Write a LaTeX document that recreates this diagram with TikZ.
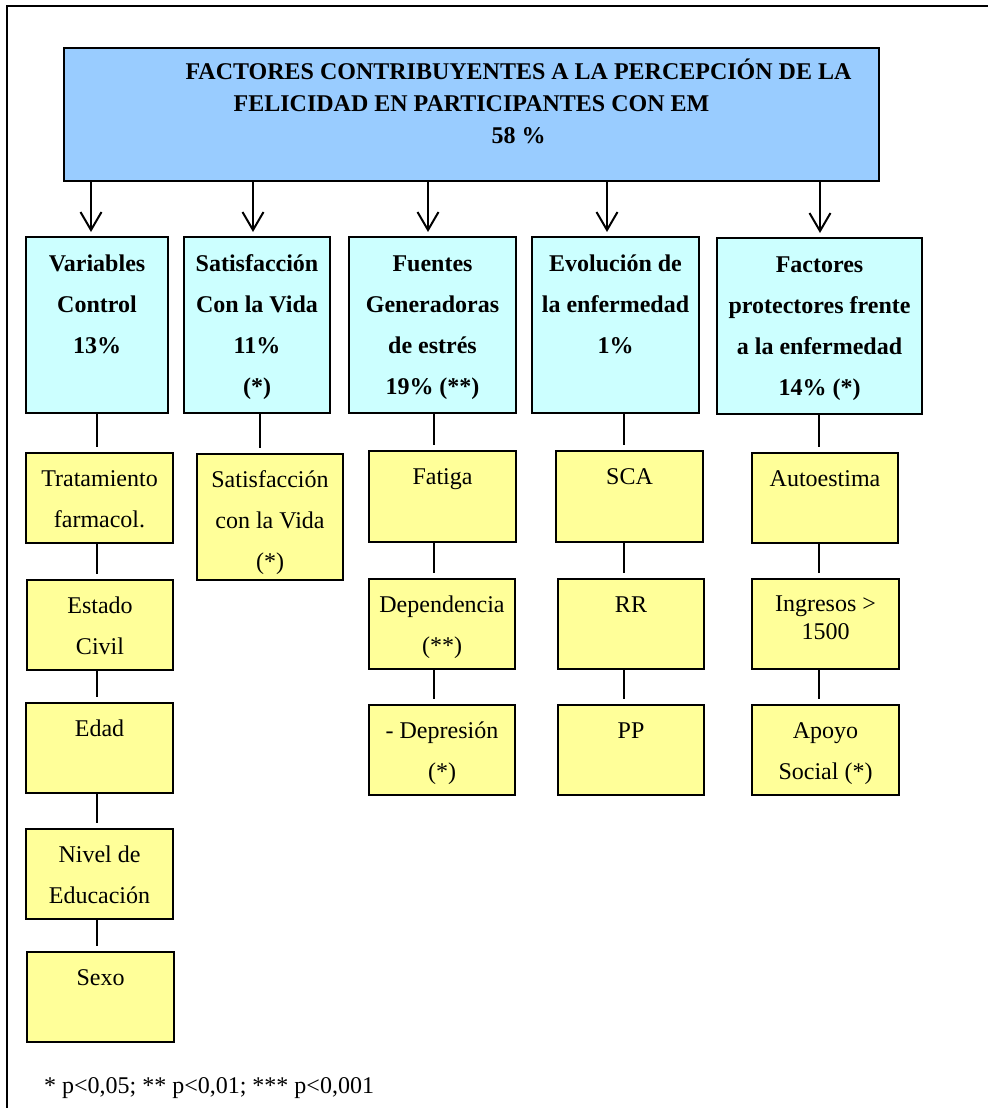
\documentclass[tikz,border=0pt]{standalone}
\usepackage{fontspec}
\setmainfont{Liberation Serif}
\usetikzlibrary{arrows.meta}

\definecolor{azulcab}{HTML}{99CCFF}
\definecolor{celeste}{HTML}{CCFFFF}
\definecolor{amarillo}{HTML}{FFFF99}

% texto de caja, alineado arriba
\newcommand{\cajatexto}[4]{%
\begin{minipage}[t][#1][t]{#2}\centering\rule{0pt}{#3}#4\end{minipage}}

\tikzset{
cabecera/.style={draw, line width=1pt, fill=azulcab, inner sep=0pt,
  anchor=north west, font=\bfseries\fontsize{12}{16}\selectfont},
factor/.style={draw, line width=1pt, fill=celeste, inner sep=0pt,
  anchor=north west, font=\bfseries\fontsize{12}{20.5}\selectfont},
itemcaja/.style={draw, line width=1pt, fill=amarillo, inner sep=0pt,
  anchor=north west, font=\fontsize{12}{20.5}\selectfont},
flecha/.style={line width=1pt, shorten >=2pt,
  -{Straight Barb[length=9pt,width=10.5pt]}},
enlace/.style={line width=0.8pt}
}

\begin{document}
\begin{tikzpicture}[x=0.5pt,y=-0.5pt]

\useasboundingbox (0,0) rectangle (988,1108);

% Marco
\draw[line width=1pt] (988,6) -- (7,6) -- (7,1108);

% Caja principal
\node[cabecera] (main) at (63,47)
{\cajatexto{66.5pt}{407.5pt}{15.5pt}{%
\hspace*{47pt}FACTORES CONTRIBUYENTES A LA PERCEPCIÓN DE LA\\
FELICIDAD EN PARTICIPANTES CON EM\\
\hspace*{47pt}58 \%}};

% Factores
\node[factor] (fac1) at (25,236)
{\cajatexto{88pt}{71pt}{17pt}{Variables\\Control\\13\%}};
\node[factor] (fac2) at (183,236)
{\cajatexto{88pt}{73pt}{17pt}{Satisfacción\\Con la Vida\\11\%\\(*)}};
\node[factor] (fac3) at (348,236)
{\cajatexto{88pt}{83.5pt}{17pt}{Fuentes\\Generadoras\\de estrés\\19\% (**)}};
\node[factor] (fac4) at (531,236)
{\cajatexto{88pt}{83.5pt}{17pt}{Evolución de\\la enfermedad\\1\%}};
\node[factor] (fac5) at (716,237)
{\cajatexto{88pt}{102.5pt}{17pt}{Factores\\protectores frente\\a la enfermedad\\14\% (*)}};

% Variables control
\node[itemcaja] (trat) at (25,452)
{\cajatexto{45pt}{73.5pt}{16.5pt}{Tratamiento\\farmacol.}};
\node[itemcaja] (estado) at (26,579)
{\cajatexto{45pt}{73pt}{16.5pt}{Estado\\Civil}};
\node[itemcaja] (edad) at (25,702)
{\cajatexto{45pt}{73.5pt}{16.5pt}{Edad}};
\node[itemcaja] (nivel) at (25,828)
{\cajatexto{45pt}{73.5pt}{16.5pt}{Nivel de\\Educación}};
\node[itemcaja] (sexo) at (26,951)
{\cajatexto{45pt}{73.5pt}{16.5pt}{Sexo}};

% Satisfaccion
\node[itemcaja] (satvida) at (196,453)
{\cajatexto{63pt}{73pt}{16.5pt}{Satisfacción\\con la Vida\\(*)}};

% Estres
\node[itemcaja] (fatiga) at (368,450)
{\cajatexto{45.5pt}{73.5pt}{16.5pt}{Fatiga}};
\node[itemcaja] (depend) at (368,578)
{\cajatexto{45pt}{73pt}{16.5pt}{Dependencia\\(**)}};
\node[itemcaja] (depres) at (368,704)
{\cajatexto{45pt}{73pt}{16.5pt}{- Depresión\\(*)}};

% Evolucion
\node[itemcaja] (sca) at (555,450)
{\cajatexto{45.5pt}{73.5pt}{16.5pt}{SCA}};
\node[itemcaja] (rr) at (557,578)
{\cajatexto{45pt}{73pt}{16.5pt}{RR}};
\node[itemcaja] (pp) at (557,704)
{\cajatexto{45pt}{73pt}{16.5pt}{PP}};

% Protectores
\node[itemcaja] (autoest) at (751,452)
{\cajatexto{45pt}{73pt}{16.5pt}{Autoestima}};
\node[itemcaja] (ingresos) at (751,578)
{\cajatexto{45pt}{73.5pt}{16pt}{Ingresos >\\[-6.5pt]1500}};
\node[itemcaja] (apoyo) at (751,704)
{\cajatexto{45pt}{73.5pt}{16.5pt}{Apoyo\\Social (*)}};

% Flechas
\foreach \n/\x in {1/91,2/253,3/428,4/607,5/820}{
  \coordinate (f\n) at (\x,0);
  \draw[flecha] (main.south -| f\n) -- (fac\n.north -| f\n);
}

% Lineas
\coordinate (s1) at (97,0);
\coordinate (s2) at (260,0);
\coordinate (s3) at (434,0);
\coordinate (s4) at (624,0);
\coordinate (s5) at (819,0);
\foreach \a/\b/\s in {fac1/trat/s1,trat/estado/s1,estado/edad/s1,
  edad/nivel/s1,nivel/sexo/s1,fac2/satvida/s2,fac3/fatiga/s3,
  fatiga/depend/s3,depend/depres/s3,fac4/sca/s4,sca/rr/s4,rr/pp/s4,
  fac5/autoest/s5,autoest/ingresos/s5,ingresos/apoyo/s5}{
  \draw[enlace, shorten >=2.5pt] (\a.south -| \s) -- (\b.north -| \s);
}

% Nota
\node[anchor=base west, font=\fontsize{12}{14}\selectfont] (nota) at (37,1093)
{* p<0,05; ** p<0,01; *** p<0,001};

\end{tikzpicture}
\end{document}
